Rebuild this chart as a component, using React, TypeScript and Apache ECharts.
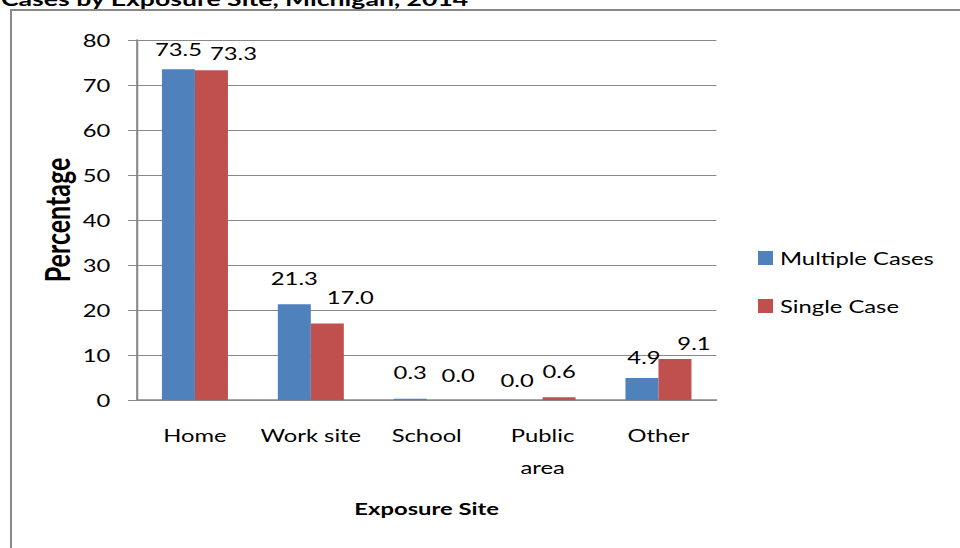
import React, { useEffect, useRef } from "react";
import * as echarts from "echarts";

const categories = ["Home", "Work site", "School", "Public\narea", "Other"];
const multipleCases = [73.5, 21.3, 0.3, 0.0, 4.9];
const singleCase = [73.3, 17.0, 0.0, 0.6, 9.1];
const seriesNames = ["Multiple Cases", "Single Case"];
const yMin = 0;
const yMax = 80;
const yInterval = 10;
const titleText = "Cases by Exposure Site, Michigan, 2014";

// layout tweaks for the value labels (horizontal shift in px, gap above bar in px)
const labelShiftX = [
  [0, 0, 0, -9, 2],
  [22, 23, 15, 0, 19],
];
const labelGap = [
  [10, 16, 16, 10, 11],
  [7, 16, 15, 16, 6],
];

const S = 1.4; // horizontal stretch matching the wide font of the reference
const W = 960 / S;
const H = 548;
const FONT = "Lato";
const GRAY = "#888888";

export default function App() {
  const ref = useRef<HTMLDivElement>(null);
  useEffect(() => {
    if (!ref.current) return;
    const chart = echarts.init(ref.current, null, { renderer: "svg" });
    const labelBase = {
      show: true,
      position: "top",
      distance: 16,
      fontFamily: FONT,
      fontSize: 17,
      lineHeight: 20,
      color: "#000",
      formatter: (p: any) => Number(p.value).toFixed(1),
    };
    const mk = (vals: number[], si: number) =>
      vals.map((v, i) => ({
        value: v,
        label: { distance: labelGap[si][i], offset: [labelShiftX[si][i] / S, 0] },
      }));
    chart.setOption({
      animation: false,
      textStyle: { fontFamily: FONT },
      grid: { left: 137 / S, right: W - 716 / S, top: 40, bottom: H - 400 },
      legend: {
        orient: "vertical",
        left: 758 / S,
        top: 248,
        padding: 0,
        itemWidth: 15 / S,
        itemHeight: 14,
        itemGap: 28,
        icon: "rect",
        textStyle: { fontFamily: FONT, fontSize: 17, lineHeight: 20, color: "#000" },
        data: seriesNames,
      },
      xAxis: {
        type: "category",
        data: categories,
        axisLine: { show: true, lineStyle: { color: GRAY, width: 1.5 } },
        axisTick: { show: false },
        axisLabel: {
          margin: 19,
          fontFamily: FONT,
          fontSize: 17,
          lineHeight: 32,
          color: "#000",
          interval: 0,
        },
        name: "Exposure Site",
        nameLocation: "middle",
        nameGap: 98,
        nameMoveOverlap: false,
        nameTextStyle: { fontFamily: FONT, fontSize: 17, lineHeight: 20, fontWeight: "bold", color: "#000" },
      },
      yAxis: {
        type: "value",
        min: yMin,
        max: yMax,
        interval: yInterval,
        axisLine: { show: true, lineStyle: { color: GRAY, width: 1.5 } },
        axisTick: { show: true, length: 9 / S, lineStyle: { color: GRAY } },
        splitLine: { show: true, lineStyle: { color: GRAY, width: 1 } },
        axisLabel: { margin: 19, fontFamily: FONT, fontSize: 17, color: "#000" },
        name: "Percentage",
        nameLocation: "middle",
        nameRotate: 90,
        nameGap: 45,
        nameMoveOverlap: false,
        nameTextStyle: { fontFamily: FONT, fontSize: 25, fontWeight: "bold", color: "#000" },
      },
      series: [
        {
          name: seriesNames[0],
          type: "bar",
          data: mk(multipleCases, 0),
          barWidth: 33 / S,
          barGap: "0%",
          itemStyle: { color: "#4F81BD" },
          label: labelBase,
        },
        {
          name: seriesNames[1],
          type: "bar",
          data: mk(singleCase, 1),
          barWidth: 33 / S,
          barGap: "0%",
          itemStyle: { color: "#C0504D" },
          label: labelBase,
        },
      ],
      graphic: [
        {
          type: "line",
          shape: { x1: 11 / S, y1: 10, x2: 11 / S, y2: H + 10 },
          style: { stroke: GRAY, lineWidth: 2 / S },
          silent: true,
        },
        {
          type: "line",
          shape: { x1: 10 / S, y1: 10, x2: W + 10, y2: 10 },
          style: { stroke: GRAY, lineWidth: 2 },
          silent: true,
        },
        {
          type: "text",
          x: 1 / S,
          y: -1.5,
          style: {
            text: titleText,
            fontFamily: FONT,
            fontSize: 19,
            fontWeight: "bold",
            fill: "#000",
            verticalAlign: "middle",
            align: "left",
          },
          silent: true,
        },
      ],
    });
    return () => chart.dispose();
  }, []);
  return (
    <div
      ref={ref}
      style={{
        position: "fixed",
        left: 0,
        top: 0,
        width: W,
        height: H,
        transform: `scaleX(${S})`,
        transformOrigin: "0 0",
        background: "#fff",
      }}
    />
  );
}
